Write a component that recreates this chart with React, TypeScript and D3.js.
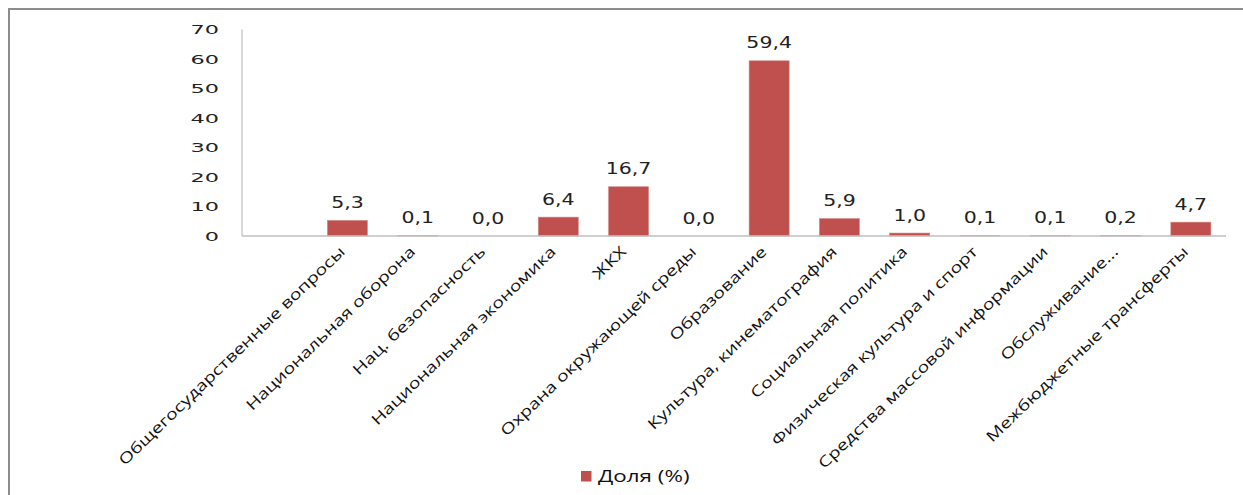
import React from "react";
import * as d3 from "d3";

const categories: string[] = [
  "",
  "Общегосударственные вопросы",
  "Национальная оборона",
  "Нац. безопасность",
  "Национальная экономика",
  "ЖКХ",
  "Охрана окружающей среды",
  "Образование",
  "Культура, кинематография",
  "Социальная политика",
  "Физическая культура и спорт",
  "Средства массовой информации",
  "Обслуживание...",
  "Межбюджетные трансферты",
];
const values: (number | null)[] = [null, 5.3, 0.1, 0.0, 6.4, 16.7, 0.0, 59.4, 5.9, 1.0, 0.1, 0.1, 0.2, 4.7];
const yTicks: number[] = [0, 10, 20, 30, 40, 50, 60, 70];
const seriesName = "Доля (%)";

const W = 1243;
const H = 495;
const BAR = "#C0504D";

export default function App() {
  const x = d3
    .scaleBand<string>()
    .domain(categories.map((c, i) => String(i)))
    .range([242, 1226])
    .paddingInner(0.43)
    .paddingOuter(0.215);
  const y = d3.scaleLinear().domain([0, 70]).range([236, 29.5]);
  const fmt = (v: number) => d3.format(".1f")(v).replace(".", ",");
  const bw = x.bandwidth();

  return (
    <svg
      width={W}
      height={H}
      style={{ position: "absolute", left: 0, top: 0, display: "block", background: "#fff" }}
    >
      <rect x={9} y={9} width={1400} height={800} fill="#fff" stroke="#8c8c8c" strokeWidth={2} />
      {/* y axis */}
      <line x1={242} x2={242} y1={y(70)} y2={y(0)} stroke="#bfbfbf" strokeWidth={1.2} />
      {yTicks.map((t) => (
        <text
          key={t}
          transform={`translate(219,${y(t)}) scale(1.75,1)`}
          textAnchor="end"
          dy="0.36em"
          fontFamily="DejaVu Sans"
          fontSize={12.8}
          fill="#222"
        >
          {t}
        </text>
      ))}
      {/* bars */}
      {values.map((v, i) =>
        v == null ? null : (
          <rect
            key={i}
            x={x(String(i))!}
            y={y(v)}
            width={bw}
            height={y(0) - y(v)}
            fill={BAR}
            stroke="#d48a88"
            strokeWidth={0.6}
          />
        )
      )}
      {/* x baseline */}
      <line x1={242} x2={1226} y1={y(0)} y2={y(0)} stroke="#bfbfbf" strokeWidth={1.5} />
      {/* value labels */}
      {values.map((v, i) =>
        v == null ? null : (
          <text
            key={i}
            transform={`translate(${x(String(i))! + bw / 2},${y(v) - 12.5}) scale(1.28,1)`}
            textAnchor="middle"
            fontFamily="DejaVu Sans"
            fontSize={16}
            fill="#222"
          >
            {fmt(v)}
          </text>
        )
      )}
      {/* category labels */}
      {categories.map((c, i) =>
        c === "" ? null : (
          <text
            key={i}
            transform={`translate(${x(String(i))! + bw / 2 - 9},245) rotate(-44) scale(1.3,1)`}
            textAnchor="end"
            dy="0.72em"
            fontFamily="Open Sans"
            fontSize={15}
            fill="#111"
          >
            {c}
          </text>
        )
      )}
      {/* legend */}
      <rect x={581} y={471} width={10.5} height={10.5} fill={BAR} />
      <text
        transform="translate(598,482) scale(1.4,1)"
        fontFamily="Open Sans"
        fontSize={16}
        fill="#111"
      >
        {seriesName}
      </text>
    </svg>
  );
}
